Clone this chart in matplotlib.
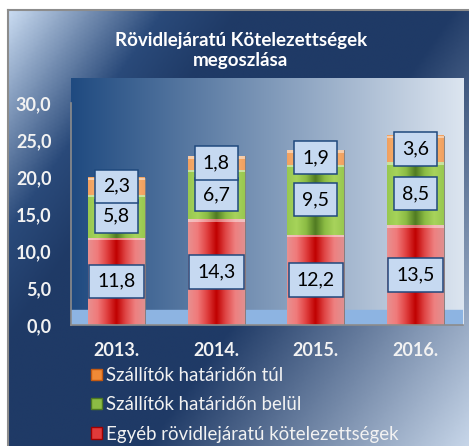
import numpy as np
import matplotlib
matplotlib.use("Agg")
import matplotlib.pyplot as plt
from matplotlib.colors import LinearSegmentedColormap
from matplotlib.patches import Patch

years = ['2013.', '2014.', '2015.', '2016.']
egyeb = [11.8, 14.3, 12.2, 13.5]
belul = [5.8, 6.7, 9.5, 8.5]
tul = [2.3, 1.8, 1.9, 3.6]
labels = ['Szállítók határidőn túl', 'Szállítók határidőn belül', 'Egyéb rövidlejáratú kötelezettségek']
title = 'Rövidlejáratú Kötelezettségek\nmegoszlása'

plt.rcParams['font.family'] = ['Lato', 'DejaVu Sans']

W, H = 469, 446
fig = plt.figure(figsize=(W/100, H/100), dpi=100, facecolor='white')

# chart-area background with diagonal gradient
bg = fig.add_axes([8/W, 0, (W-8)/W, (H-10)/H], zorder=0)
ny, nx = 200, 200
xx, yy = np.meshgrid(np.linspace(0, 1, nx), np.linspace(0, 1, ny))
t = 0.6*xx + 0.4*yy
bg_cmap = LinearSegmentedColormap.from_list('bg', [(0, '#c8daf0'), (0.2, '#2a4a7a'), (0.3, '#1f3a66'),
                                                   (0.58, '#1f3a66'), (1, '#c6d5e8')])
bg.imshow(t, cmap=bg_cmap, aspect='auto', extent=(0, 1, 1, 0), interpolation='bilinear')
bg.set_xlim(0, 1); bg.set_ylim(1, 0)
bg.set_xticks([]); bg.set_yticks([])
for s in ['right', 'bottom']:
    bg.spines[s].set_visible(False)
for s in ['left', 'top']:
    bg.spines[s].set_color('#8c8c8c'); bg.spines[s].set_linewidth(1.5)

# plot area
ax = fig.add_axes([71/W, 121/H, 392/W, 247/H], zorder=1)
wall_cmap = LinearSegmentedColormap.from_list('wall', ['#1f4a80', '#dce5f0'])
ax.imshow(np.linspace(0, 1, 256).reshape(1, -1), cmap=wall_cmap, aspect='auto',
          extent=(0, 1, 0, 1), transform=ax.transAxes, zorder=0, interpolation='bilinear')
ymax = 33.4
ax.axhspan(0, 2.0, color='#8db4e2', zorder=1)

x = np.arange(len(years))
w = 0.57

cmaps = {
    'red': LinearSegmentedColormap.from_list('r', ['#e89090', '#f07a7a', '#e04040', '#c00000', '#e04848', '#ee8080', '#e09090']),
    'green': LinearSegmentedColormap.from_list('g', ['#98c850', '#a6d45a', '#8cbc44', '#4f7a22', '#8cbc44', '#a8d35c', '#98c850']),
    'orange': LinearSegmentedColormap.from_list('o', ['#f0a060', '#fab06a', '#f08a36', '#c55a11', '#f08a36', '#fab06a', '#f0a060']),
}
base = {'red': '#d83030', 'green': '#8cbc44', 'orange': '#f08a36'}

bottoms = np.zeros(len(years))
grad = np.linspace(0, 1, 128).reshape(1, -1)
for vals, key in [(egyeb, 'red'), (belul, 'green'), (tul, 'orange')]:
    bars = ax.bar(x, vals, w, bottom=bottoms, color=base[key], edgecolor='#7f7f7f', linewidth=0.6, zorder=2)
    for b in bars:
        x0, y0, bw, bh = b.get_x(), b.get_y(), b.get_width(), b.get_height()
        ax.imshow(grad, cmap=cmaps[key], aspect='auto', extent=(x0, x0+bw, y0, y0+bh),
                  zorder=2.5, interpolation='bilinear')
        hh = min(0.35, bh*0.3)
        ax.bar(x0 + bw/2, hh, bw, bottom=y0 + bh - hh,
               color='white', alpha=0.45, linewidth=0, zorder=2.6)
    for xi, b0, v in zip(x, bottoms, vals):
        ax.text(xi, b0 + v/2, f'{v:.1f}'.replace('.', ','), ha='center', va='center',
                fontsize=14, color='black', zorder=5,
                bbox=dict(boxstyle='square,pad=0.42', facecolor='#c6d9f1', edgecolor='#1f497d', linewidth=1.1))
    bottoms = bottoms + np.array(vals)

ax.set_xlim(-0.46, 3.48)
ax.set_ylim(0, ymax)
ax.set_yticks(np.arange(0, 31, 5))
ax.set_yticklabels([f'{v:.1f}'.replace('.', ',') for v in np.arange(0, 31, 5)])
ax.set_xticks(x)
ax.set_xticklabels(years)
ax.tick_params(axis='both', length=0, colors='#f2f2f2', labelsize=13)
ax.tick_params(axis='y', pad=14)
ax.tick_params(axis='x', pad=12)
for lab in ax.get_xticklabels() + ax.get_yticklabels():
    lab.set_fontweight('bold')
for s in ['top', 'right']:
    ax.spines[s].set_visible(False)
ax.spines['left'].set_bounds(0, 30)
ax.spines['left'].set_color('#8c8c8c')
ax.spines['bottom'].set_color('#8c8c8c')
ax.spines['left'].set_linewidth(1.2)
ax.spines['bottom'].set_linewidth(1.2)

fig.text(241/W, 1 - 50.5/H, title, ha='center', va='center', fontsize=13.5, fontweight='bold',
         color='white', linespacing=1.2)

handles = [Patch(facecolor='#f08a36', edgecolor='#c55a11'),
           Patch(facecolor='#8cbc44', edgecolor='#4f7a22'),
           Patch(facecolor='#e03a3a', edgecolor='#a00000')]
leg = fig.legend(handles, labels, loc='upper left', bbox_to_anchor=(91/W, 1 - 367/H),
                 frameon=False, fontsize=13.4, labelcolor='#f2f2f2', handlelength=0.6,
                 handleheight=0.55, handletextpad=0.2, labelspacing=0.66, borderpad=0, borderaxespad=0)

fig.savefig('out.png', dpi=100, facecolor='white')
